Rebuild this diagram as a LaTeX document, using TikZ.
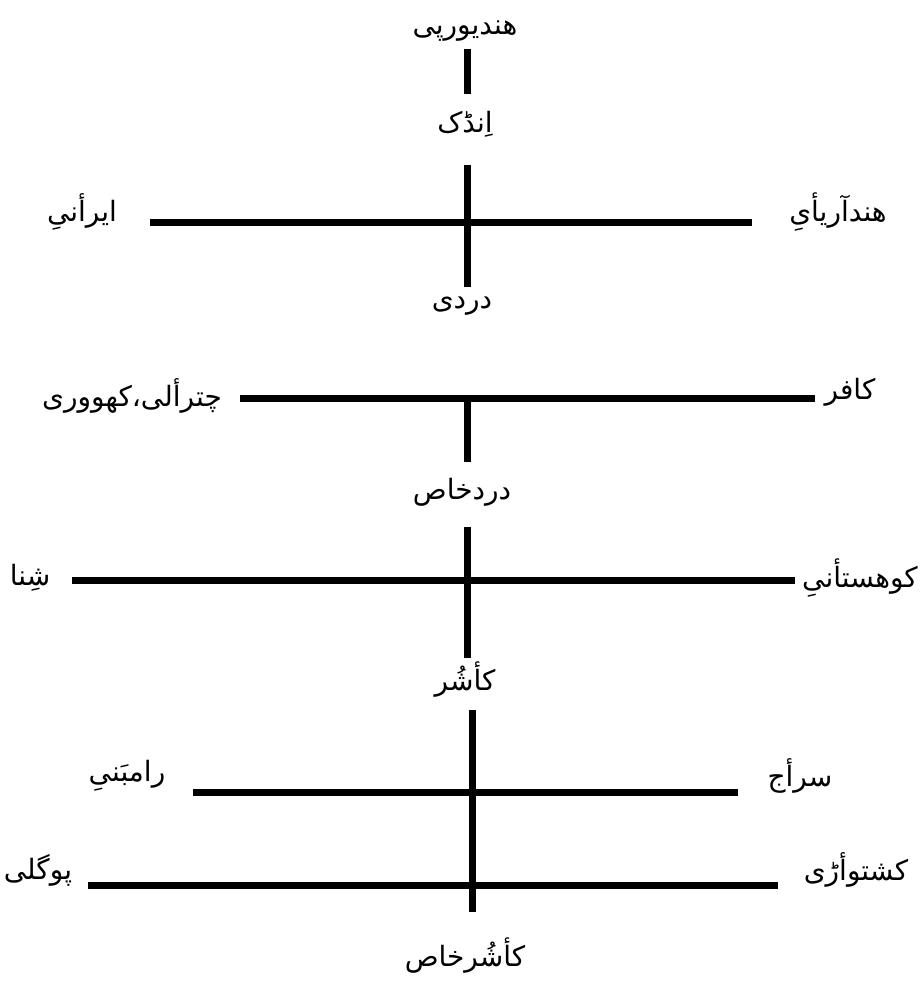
\documentclass[tikz,border=0pt]{standalone}
\usepackage{fontspec}
\newfontfamily\arabicfont[Script=Arabic]{DejaVu Sans}
\TeXXeTstate=1

\tikzset{
	lang/.style={font=\arabicfont\fontsize{28}{32}\selectfont, inner sep=1pt},
	branch/.style={line width=7pt}}
\tikzset{every picture/.style={line width=0.75pt}}

\begin{document}
\begin{tikzpicture}[x=1pt,y=1pt,yscale=-1,xscale=1]
	\useasboundingbox (0,0) rectangle (923,989);

	% Text Node
	\node [lang] (hindyurpi) at (465,31) {\beginR هندیورپی\endR};
	% Text Node
	\node [lang] (indik) at (465,124) {\beginR اِنڈک\endR};
	% Text Node
	\node [lang] (irani) at (82,212) {\beginR ایرأنیِ\endR};
	% Text Node
	\node [lang] (hindarya) at (838,212) {\beginR هندآریأیِ\endR};
	% Text Node
	\node [lang] (dardi) at (462,306) {\beginR دردی\endR};
	% Text Node
	\node [lang] (chitrali) at (132,396) {\beginR چترألی،کھووری\endR};
	% Text Node
	\node [lang] (kafir) at (850,392) {\beginR کافر\endR};
	% Text Node
	\node [lang] (dardkhas) at (462,492) {\beginR دردخاص\endR};
	% Text Node
	\node [lang] (shina) at (30,578) {\beginR شِنا\endR};
	% Text Node
	\node [lang] (kohistani) at (860,578) {\beginR کوهستأنیِ\endR};
	% Text Node
	\node [lang] (koshur) at (465,680) {\beginR کأشُر\endR};
	% Text Node
	\node [lang] (rambani) at (127,776) {\beginR رامبَنیِ\endR};
	% Text Node
	\node [lang] (siraji) at (800,776) {\beginR سرأج\endR};
	% Text Node
	\node [lang] (poguli) at (38,870) {\beginR پوگلی\endR};
	% Text Node
	\node [lang] (kishtwari) at (856,870) {\beginR کشتوأڑی\endR};
	% Text Node
	\node [lang] (koshurkhas) at (465,956) {\beginR کأشُرخاص\endR};

	% line ends
	\coordinate (stemA) at (467,49);
	\coordinate (stemB) at (467,94);
	\coordinate (indTop) at (467,165);
	\coordinate (indBot) at (467,287);
	\coordinate (iranL) at (150,222);
	\coordinate (iranR) at (752,222);
	\coordinate (dardTop) at (467,398);
	\coordinate (dardBot) at (467,462);
	\coordinate (kafL) at (240,398);
	\coordinate (kafR) at (815,398);
	\coordinate (khasTop) at (467,527);
	\coordinate (khasBot) at (467,658);
	\coordinate (shinaL) at (72,580);
	\coordinate (shinaR) at (795,580);
	\coordinate (kosTop) at (472,710);
	\coordinate (kosBot) at (472,912);
	\coordinate (ramL) at (193,792);
	\coordinate (ramR) at (738,792);
	\coordinate (pogL) at (88,885);
	\coordinate (pogR) at (778,885);

	% Lines
	\draw [branch] (stemA) -- (stemB);
	\draw [branch] (indTop) -- (indBot);
	\draw [branch] (iranL) -- (iranR);
	\draw [branch] (kafL) -- (kafR);
	\draw [branch] (dardTop) -- (dardBot);
	\draw [branch] (khasTop) -- (khasBot);
	\draw [branch] (shinaL) -- (shinaR);
	\draw [branch] (kosTop) -- (kosBot);
	\draw [branch] (ramL) -- (ramR);
	\draw [branch] (pogL) -- (pogR);

\end{tikzpicture}
\end{document}
